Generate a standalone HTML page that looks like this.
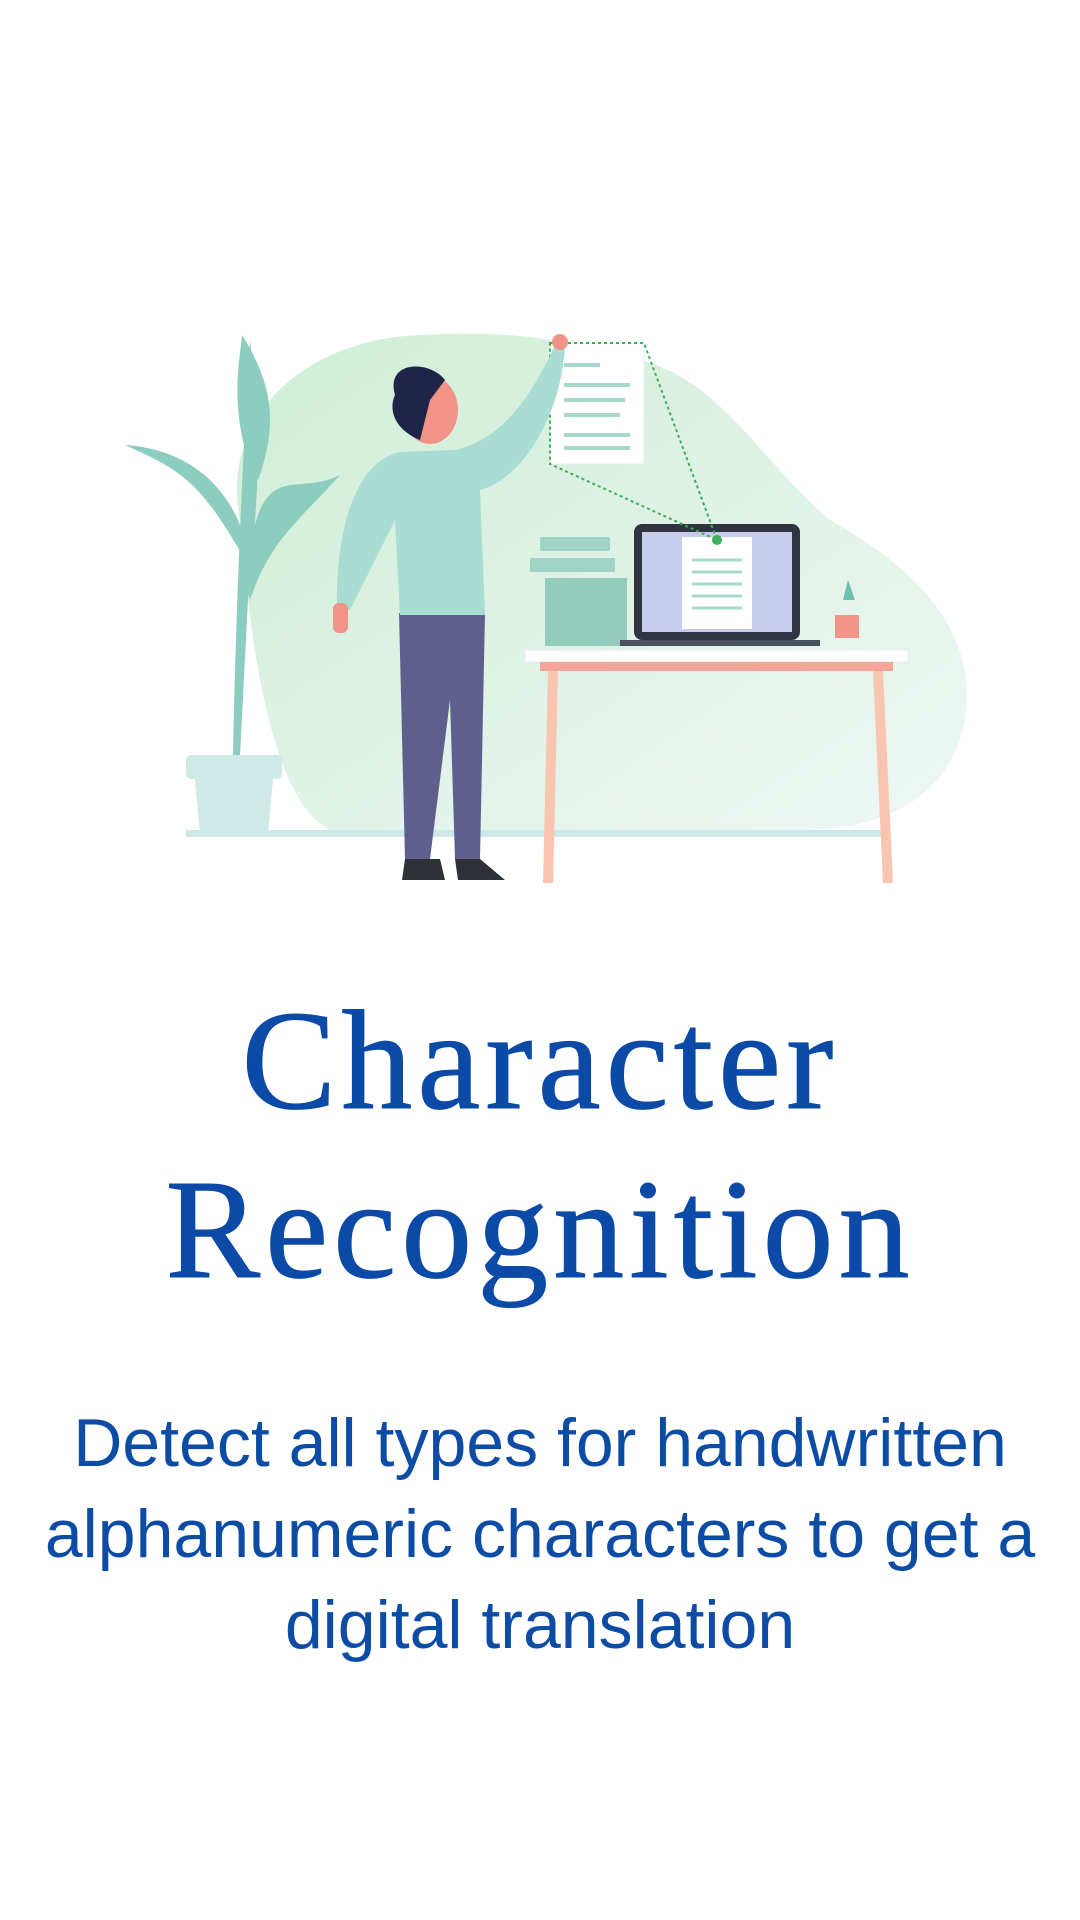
<!DOCTYPE html>
<html><head><meta charset="utf-8"><style>
html,body{margin:0;padding:0;background:#fff;width:1080px;height:1920px;overflow:hidden}
.t{position:absolute;left:0;width:1080px;text-align:center;color:#0b4aa6;white-space:nowrap}
#title{font-family:"Liberation Serif",serif;font-size:142px;letter-spacing:5px;line-height:169px;top:976px;-webkit-text-stroke:1px #0b4aa6}
#sub{font-family:"Liberation Sans",sans-serif;font-size:68px;line-height:91px;top:1398px;color:#0d4ca4}
</style></head><body>
<svg width="1080" height="900" style="position:absolute;left:0;top:0">
<defs><linearGradient id="g" x1="0" y1="0" x2="1" y2="1"><stop offset="0" stop-color="#cfeed6"/><stop offset="1" stop-color="#eef7f5"/></linearGradient></defs>
<path d="M240,520 C220,420 300,340 420,335 C520,330 560,340 640,360 C720,380 760,460 830,520 C900,560 980,620 965,720 C950,800 880,830 800,830 L330,830 C270,800 250,640 240,520Z" fill="url(#g)"/>
<rect x="186" y="830" width="697" height="7" fill="#cde8e6"/>
<g fill="#8ccdbf">
<path d="M233,755 C235,650 240,500 250,340 C260,420 262,460 248,600 L240,755Z"/>
<path d="M245,560 C200,480 180,470 125,445 C200,450 240,500 250,560Z"/>
<path d="M245,580 C260,450 290,500 340,475 C300,520 270,540 250,600Z"/>
<path d="M248,460 C230,400 240,360 242,335 C270,380 280,420 258,480Z"/>
<rect x="186" y="755" width="96" height="24" rx="5" fill="#cfe9e7"/>
<path d="M195,779 L273,779 L268,834 L200,834Z" fill="#cfe9e7"/>
</g>
<g>
<rect x="525" y="650" width="383" height="12" fill="#fff" stroke="#eee"/>
<rect x="540" y="662" width="353" height="9" fill="#f5a49a"/>
<path d="M548,671 L558,671 L553,883 L543,883Z" fill="#f9c5b0"/>
<path d="M873,671 L883,671 L893,883 L883,883Z" fill="#f9c5b0"/>
</g>
<g fill="#9fd3c6">
<rect x="540" y="537" width="70" height="14" rx="2"/>
<rect x="530" y="558" width="85" height="14" rx="2"/>
<rect x="545" y="578" width="82" height="68" fill="#93cbbd"/>
</g>
<g>
<rect x="634" y="524" width="166" height="116" rx="8" fill="#2f3440"/>
<rect x="642" y="532" width="150" height="100" fill="#c5cdea"/>
<rect x="682" y="537" width="70" height="92" fill="#fff"/>
<g stroke="#a6d8cc" stroke-width="3"><line x1="692" y1="560" x2="742" y2="560"/><line x1="692" y1="572" x2="742" y2="572"/><line x1="692" y1="584" x2="742" y2="584"/><line x1="692" y1="596" x2="742" y2="596"/><line x1="692" y1="608" x2="742" y2="608"/></g>
<rect x="620" y="640" width="200" height="6" fill="#4a5060"/>
<circle cx="717" cy="540" r="5" fill="#3fae55"/>
</g>
<g><path d="M843,600 L848,580 L855,600Z" fill="#6dbfae"/><rect x="835" y="615" width="24" height="23" fill="#f29388"/></g>
<g>
<rect x="550" y="343" width="94" height="121" fill="#fff" stroke="#e6ecec"/>
<g stroke="#a6d8cc" stroke-width="4"><line x1="564" y1="365" x2="600" y2="365"/><line x1="564" y1="385" x2="630" y2="385"/><line x1="564" y1="400" x2="625" y2="400"/><line x1="564" y1="415" x2="620" y2="415"/><line x1="564" y1="435" x2="630" y2="435"/><line x1="564" y1="448" x2="630" y2="448"/></g>
<path d="M550,343 L644,343 L717,540 L550,464Z" fill="none" stroke="#3fae55" stroke-width="2" stroke-dasharray="3,3"/>
</g>
<g>
<path d="M399,613 L485,613 L480,859 L455,859 L450,700 L430,859 L405,859Z" fill="#5f5f8e"/>
<path d="M405,859 L440,859 L445,880 L402,880Z M455,859 L480,859 L505,880 L458,880Z" fill="#2e3138"/>
<path d="M337,610 C335,520 360,460 400,452 L455,450 C500,440 530,400 555,345 L565,348 C560,420 520,480 480,490 L485,615 L400,615 L395,520 L350,610Z" fill="#a9dcd3"/>
<rect x="333" y="603" width="15" height="30" rx="6" fill="#f29388"/>
<ellipse cx="430" cy="410" rx="28" ry="34" fill="#f29388"/>
<path d="M395,395 C385,360 430,360 445,380 L430,400 L420,440 C395,430 388,410 395,395Z" fill="#1e2546"/>
<circle cx="560" cy="342" r="8" fill="#f29388"/>
</g>
</svg>
<div id="title" class="t">Character<br>Recognition</div>
<div id="sub" class="t">Detect all types for handwritten<br>alphanumeric characters to get a<br>digital translation</div>
</body></html>
